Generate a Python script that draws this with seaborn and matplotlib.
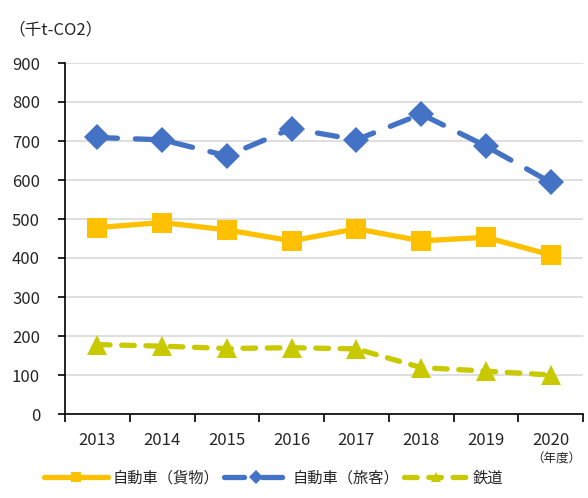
import matplotlib
matplotlib.use("Agg")
import matplotlib.pyplot as plt
import seaborn as sns
import pandas as pd
from matplotlib.lines import Line2D

years = ["2013", "2014", "2015", "2016", "2017", "2018", "2019", "2020"]
freight = [478, 491, 472, 444, 475, 444, 453, 408]
passenger = [709, 703, 662, 732, 703, 769, 687, 594]
rail = [178, 174, 168, 170, 167, 119, 110, 100]
series_names = ["自動車（貨物）", "自動車（旅客）", "鉄道"]
yticks = [0, 100, 200, 300, 400, 500, 600, 700, 800, 900]

sns.set_theme(style="white")
plt.rcParams['font.family'] = ['Noto Sans CJK JP', 'DejaVu Sans']

fig = plt.figure(figsize=(5.88, 4.98), dpi=100)
ax = fig.add_axes([65/588, 1-414/498, 518/588, 351/498])

colors = ["#FFC000", "#4472C4", "#C9C900"]
markers = ["s", "D", "^"]
msizes = [15, 13, 15]
dash_styles = [None, (3.8, 3.4), (2.4, 2.2)]
data = [freight, passenger, rail]
x = list(range(len(years)))
handles = []
for name, vals, c, m, ms, d in zip(series_names, data, colors, markers, msizes, dash_styles):
    df = pd.DataFrame({"x": x, "y": vals})
    sns.lineplot(data=df, x="x", y="y", ax=ax, color=c, lw=3.8, marker=m,
                 markersize=ms, markeredgewidth=0, legend=False,
                 dash_capstyle="round", solid_capstyle="round", zorder=3)
    line = ax.get_lines()[-1]
    if d is not None:
        line.set_dashes(d)
    h = Line2D([0], [0], color=c, lw=3.8, marker=m, markersize=7,
               markeredgewidth=0, solid_capstyle="round", dash_capstyle="round")
    if d is not None:
        h.set_dashes(d)
    handles.append(h)

ax.set_xlim(-0.5, len(years) - 0.5)
ax.set_ylim(0, 900)
ax.set_yticks(yticks)
ax.set_yticklabels([str(t) for t in yticks], fontsize=12)
ax.set_xticks(x)
ax.set_xticklabels(years, fontsize=12)
ax.set_xticks([i + 0.5 for i in range(-1, len(years))], minor=True)
ax.tick_params(axis="x", which="major", length=0, pad=13)
ax.tick_params(axis="x", which="minor", length=6, width=1.2, color="black", direction="out", bottom=True)
ax.tick_params(axis="y", length=5, width=1.2, color="black", direction="out", left=True, pad=13)
ax.set_xlabel("")
ax.set_ylabel("")
ax.grid(axis="y", color="#D9D9D9", lw=1.2, zorder=0)
for s in ["top", "right"]:
    ax.spines[s].set_visible(False)
for s in ["left", "bottom"]:
    ax.spines[s].set_color("black")
    ax.spines[s].set_linewidth(1.2)

fig.text(8/588, 1-30/498, "（千t-CO2）", fontsize=12, ha="left", va="center")
fig.text(556/588, 1-459/498, "（年度）", fontsize=9, ha="center", va="center")

fig.legend(handles, series_names, loc="center", bbox_to_anchor=(0.465, 1-478/498),
           ncol=3, frameon=False, fontsize=11, handlelength=4.2, columnspacing=0.3,
           handletextpad=0.3)

fig.savefig("out.png", dpi=100)
